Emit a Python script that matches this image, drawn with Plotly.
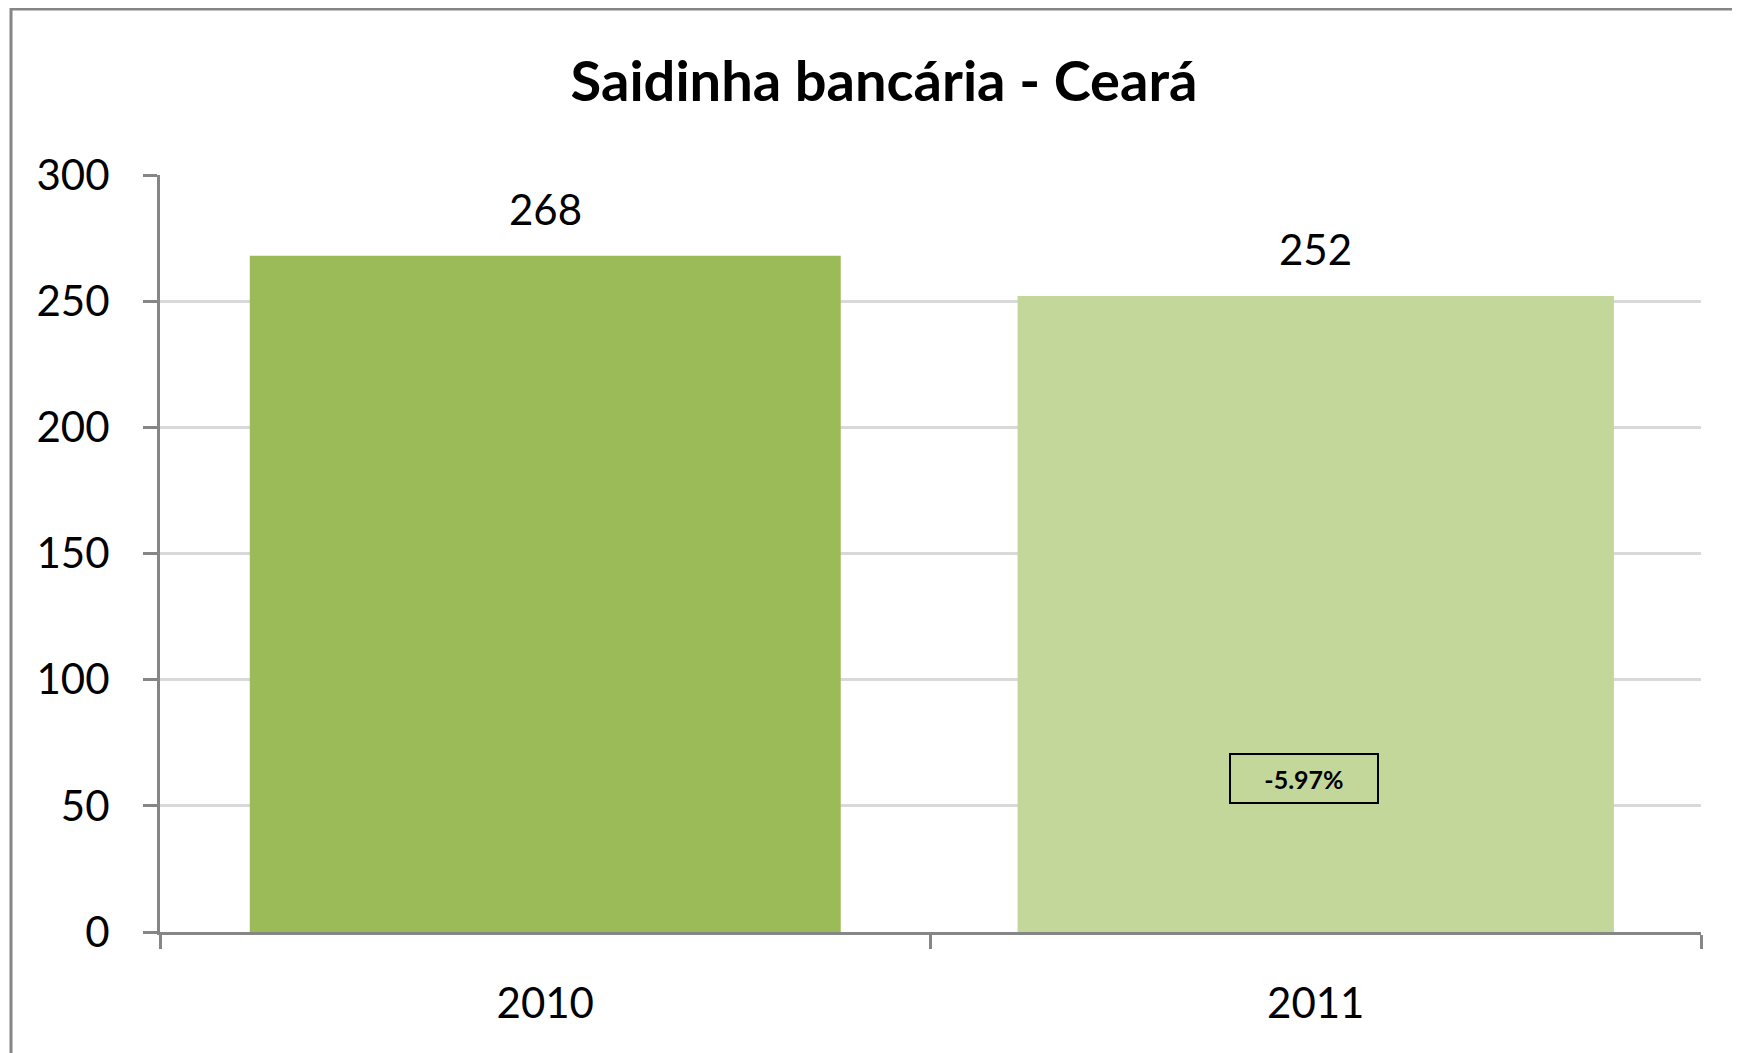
import plotly.graph_objects as go

categories = ["2010", "2011"]
values = [268, 252]
bar_colors = ["#9BBB59", "#C4D79B"]
change_label = "-5.97%"
change_y = 61
title_text = "Saidinha bancária - Ceará"

W, H = 1740, 1053
L, R, T, B = 152, 47, 167, 129
pw, ph = W - L - R, H - T - B

FONT = "Lato"
fig = go.Figure()
fig.add_trace(go.Bar(
    x=categories, y=values,
    marker=dict(color=bar_colors, line=dict(width=0)),
    width=[0.767, 0.774],
    hoverinfo="skip",
))

# annotations on a category axis use the category index
for i, v in enumerate(values):
    fig.add_annotation(x=i, y=v, text=str(v), showarrow=False,
                       yanchor="bottom", yshift=20,
                       font=dict(family=FONT, size=42, color="#000000"))

fig.add_annotation(x=1, y=change_y, text="<b>" + change_label + "</b>",
                   showarrow=False, xshift=-12,
                   font=dict(family=FONT, size=25, color="#000000"),
                   bordercolor="#000000", borderwidth=2, borderpad=4,
                   width=138, height=39, bgcolor="rgba(0,0,0,0)")

# outer frame
fig.add_shape(type="rect", xref="paper", yref="paper",
              x0=(3 - L) / pw, x1=(W + 10 - L) / pw,
              y0=-(H + 10 - (H - B)) / ph, y1=((H - B) - 1) / ph,
              line=dict(color="#868686", width=3), layer="below")

fig.update_layout(
    width=W, height=H,
    margin=dict(l=L, r=R, t=T, b=B, autoexpand=False),
    paper_bgcolor="white", plot_bgcolor="white",
    showlegend=False,
    bargap=0.233,
    title=dict(text="<b>" + title_text + "</b>", x=876 / W, xref="container",
               y=1 - 73 / H, yref="container", xanchor="center", yanchor="middle",
               font=dict(family=FONT, size=56, color="#000000")),
)
fig.update_xaxes(
    type="category", range=[-0.5, 1.5], showgrid=False, showline=True,
    linecolor="#868686", linewidth=3,
    ticks="outside", tickson="boundaries", ticklen=14, tickwidth=3, tickcolor="#868686",
    tickfont=dict(family=FONT, size=42, color="#000000"), ticklabelstandoff=33,
    zeroline=False,
)
fig.update_yaxes(
    range=[0, 300], dtick=50, showgrid=True, gridcolor="#D9D9D9", gridwidth=3,
    showline=True, linecolor="#868686", linewidth=3,
    ticks="outside", ticklen=14, tickwidth=3, tickcolor="#868686",
    tickfont=dict(family=FONT, size=42, color="#000000"), ticklabelstandoff=25,
    zeroline=False,
)

fig.write_html("out.html")
